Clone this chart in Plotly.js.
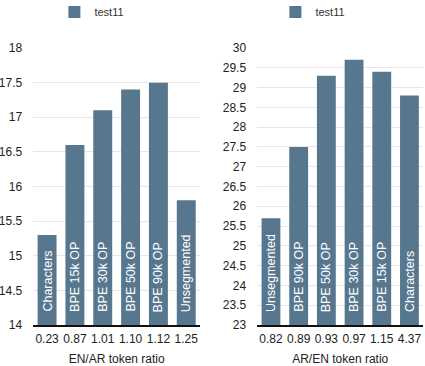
<!DOCTYPE html>
<html>
<head>
<meta charset="utf-8">
<script src="https://cdn.plot.ly/plotly-3.0.1.min.js"></script>
<style>
  html, body { margin: 0; padding: 0; background: #fff; }
  #chart { width: 425px; height: 366px; }
</style>
</head>
<body>
<div id="chart"></div>
<script>
// EN→AR: token ratio per segmentation and score
const enArRatios = ['0.23', '0.87', '1.01', '1.10', '1.12', '1.25'];
const enArLabels = ['Characters', 'BPE 15k OP', 'BPE 30k OP', 'BPE 50k OP', 'BPE 90k OP', 'Unsegmented'];
const enArScores = [15.3, 16.6, 17.1, 17.4, 17.5, 15.8];
const enArRange = [14, 18];

// AR→EN: token ratio per segmentation and score
const arEnRatios = ['0.82', '0.89', '0.93', '0.97', '1.15', '4.37'];
const arEnLabels = ['Unsegmented', 'BPE 90k OP', 'BPE 50k OP', 'BPE 30k OP', 'BPE 15k OP', 'Characters'];
const arEnScores = [25.7, 27.5, 29.3, 29.7, 29.4, 28.8];
const arEnRange = [23, 30];

const seriesName = 'test11';
const barColor = '#57778f';
const fontFamily = '"Liberation Sans", Arial, Helvetica, sans-serif';

function barTrace(x, y, xa, ya, legendId) {
  return {
    type: 'bar',
    name: seriesName,
    x: x,
    y: y,
    xaxis: xa,
    yaxis: ya,
    legend: legendId,
    showlegend: true,
    marker: { color: barColor },
    hoverinfo: 'x+y'
  };
}

// segmentation names written upward from the foot of each bar;
// the ratio labels look numeric, so place by category index
function barLabels(x, labels, yMin, xa, ya) {
  return x.map((cat, i) => ({
    x: i,
    y: yMin,
    xref: xa,
    yref: ya,
    text: labels[i],
    textangle: -90,
    showarrow: false,
    xanchor: 'center',
    yanchor: 'bottom',
    yshift: 11,
    font: { color: '#ffffff', size: 12.5, family: fontFamily }
  }));
}

const traces = [
  barTrace(enArRatios, enArScores, 'x', 'y', 'legend'),
  barTrace(arEnRatios, arEnScores, 'x2', 'y2', 'legend2')
];

const tickFont = { size: 12, color: '#222', family: fontFamily };
const titleFont = { size: 12, color: '#222', family: fontFamily };

const xCommon = {
  type: 'category',
  showgrid: false,
  zeroline: false,
  showline: true,
  linecolor: '#111',
  linewidth: 1.5,
  ticks: '',
  tickfont: tickFont,
  ticklabelstandoff: 2,
  fixedrange: true
};

const yCommon = {
  showgrid: true,
  gridcolor: '#e6e6e6',
  gridwidth: 1,
  zeroline: false,
  showline: false,
  ticks: '',
  tickfont: tickFont,
  ticklabelstandoff: 10,
  dtick: 0.5,
  fixedrange: true
};

const legendFont = { size: 11, color: '#333', family: fontFamily };

const layout = {
  width: 425,
  height: 366,
  margin: { l: 0, r: 0, t: 48, b: 41 },
  paper_bgcolor: '#ffffff',
  plot_bgcolor: '#ffffff',
  font: { family: fontFamily, color: '#222' },
  bargap: 0.32,
  xaxis: Object.assign({}, xCommon, {
    domain: [0.078, 0.471],
    anchor: 'y',
    title: { text: 'EN/AR token ratio', font: titleFont, standoff: 10 }
  }),
  yaxis: Object.assign({}, yCommon, {
    domain: [0, 1],
    anchor: 'x',
    range: enArRange
  }),
  xaxis2: Object.assign({}, xCommon, {
    domain: [0.605, 0.996],
    anchor: 'y2',
    title: { text: 'AR/EN token ratio', font: titleFont, standoff: 10 }
  }),
  yaxis2: Object.assign({}, yCommon, {
    domain: [0, 1],
    anchor: 'x2',
    range: arEnRange
  }),
  annotations: barLabels(enArRatios, enArLabels, enArRange[0], 'x', 'y')
    .concat(barLabels(arEnRatios, arEnLabels, arEnRange[0], 'x2', 'y2')),
  legend: {
    xref: 'container', yref: 'container',
    x: 0.128, y: 0.967, xanchor: 'left', yanchor: 'middle',
    orientation: 'h',
    font: legendFont,
    bgcolor: 'rgba(0,0,0,0)'
  },
  legend2: {
    xref: 'container', yref: 'container',
    x: 0.648, y: 0.967, xanchor: 'left', yanchor: 'middle',
    orientation: 'h',
    font: legendFont,
    bgcolor: 'rgba(0,0,0,0)'
  }
};

Plotly.newPlot('chart', traces, layout, { displayModeBar: false, staticPlot: true });
</script>
</body>
</html>
